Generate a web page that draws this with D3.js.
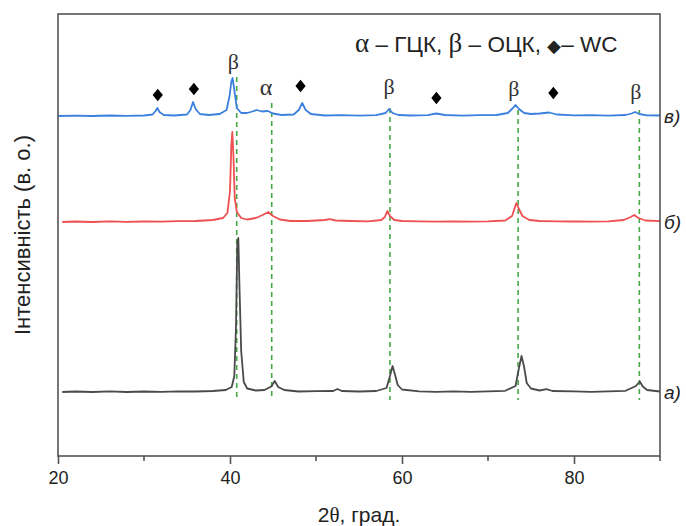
<!DOCTYPE html>
<html>
<head>
<meta charset="utf-8">
<script src="https://cdn.jsdelivr.net/npm/d3@7"></script>
<style>
  body { margin: 0; background: #fff; }
  text { font-family: "Liberation Sans", Arial, sans-serif; }
  .gr { font-family: "Liberation Serif", "DejaVu Serif", serif; }
</style>
</head>
<body>
<script>
// set the dimensions and margins of the graph
var margin = {top: 14, right: 26, bottom: 70, left: 58},
    width = 686 - margin.left - margin.right,
    height = 526 - margin.top - margin.bottom;

// trace а) [2theta, intensity]
var traceA = [
  [20.5,64],[22,64.5],[24,64],[26,64.6],[28,64],[30,64.5],[32,64.2],[34,64.6],[36,64.5],[38,65],
  [39.5,66],[40.2,69],[40.5,80],[40.7,130],[40.85,214],[40.97,218],[41.1,170],[41.3,105],[41.6,74],[42,67.5],
  [43,65.5],[44,66],[44.8,69.5],[45.2,75],[45.6,69],[46.3,66],[48,64.5],[50,64.8],[52,65],[52.5,67],
  [53,65],[55,64.5],[57,65],[58.2,68],[58.6,80],[58.9,90],[59.2,81],[59.5,71],[60,66.5],[62,64.6],
  [64,64.2],[66,64.6],[68,64.2],[70,64.6],[72,65.2],[73.2,70],[73.6,88],[73.9,100],[74.2,89],[74.5,73],
  [75,67.5],[76,65.5],[76.8,66.8],[77.5,65],[80,64.6],[82,64.2],[84,64.6],[86,65.2],[87.2,70],[87.65,74.5],
  [88,69.5],[88.5,66],[90,64.5]
];

// trace б)
var traceB = [
  [20.5,234],[22,234.5],[24,234],[26,234.6],[28,234.2],[30,234.5],[32,234.3],[34,234.8],[36,235],[38,236],
  [39.2,238],[39.7,243],[40.0,265],[40.15,310],[40.27,324],[40.4,300],[40.55,258],[40.8,244],[41.3,238],[42,236.5],
  [43,238],[43.8,241],[44.45,244],[45,240],[45.8,236.5],[47,235],[49,235],[51,236],[51.6,236.8],[52.3,235.5],
  [54,235],[56,234.6],[57.6,236],[58.0,239],[58.3,245],[58.6,240],[59.1,236],[60,235],[62,234.6],[64,234.3],
  [66,234.6],[68,234.3],[70,234.7],[72,235.5],[72.8,240],[73.1,248],[73.3,253],[73.6,247],[74,240],[74.8,236],
  [76,235],[78,234.7],[80,234.5],[82,234.3],[84,234.6],[85.8,236],[86.6,239],[87.0,241],[87.5,238],[88.3,235.5],
  [90,234.8]
];

// trace в)
var traceC = [
  [20,340],[22,340.4],[24,340],[26,340.5],[28,340.1],[30,340.5],[31.0,341.5],[31.35,345],[31.55,348],[31.8,344],
  [32.3,341],[33.5,340.5],[35,341.5],[35.4,346],[35.7,354],[36.0,347],[36.5,342],[37.5,341],[38.8,342],[39.6,346],
  [39.95,360],[40.15,374],[40.3,378],[40.5,366],[40.8,348],[41.3,343],[42,343],[42.6,344.5],[43.1,346],[43.7,344.5],
  [44.4,345],[45,342.5],[46,341],[47.4,341.5],[48.0,346],[48.4,353],[48.8,346],[49.4,342],[51,340.5],[53,340.8],
  [55,340.4],[57,340.8],[58.1,343],[58.5,347],[58.9,343],[59.6,341],[61,340.5],[63,340.8],[64.0,342.5],[65,341],
  [67,340.4],[69,340.8],[71,341],[72.3,343],[72.9,348],[73.2,351],[73.6,347],[74.2,343],[75,342],[76,342.5],
  [77.1,343.5],[78,341.5],[80,340.6],[82,340.8],[84,340.4],[86,341],[86.7,342.5],[87.1,344],[87.6,342],[88.5,340.6],
  [90,340.5]
];

// green dashed reference lines [2theta, top]
var refLines = [[40.78,379],[44.85,353],[58.6,348],[73.5,346],[87.6,346]];
var refBottom = 56;

// peak marks above в)
var betaMarks = [[40.4,394],[58.5,369],[73.0,367],[87.2,364]];
var alphaMarks = [[44.2,367]];
var wcMarks = [[31.6,361],[35.8,367],[48.2,370],[64.0,358],[77.6,363]];

var traceLabels = [["в)",340],["б)",234],["а)",64]];

var xTicks = [20,40,60,80];
var xMinor = [30,50,70,90];

var x = d3.scaleLinear().domain([20, 90]).range([0, width]);
var y = d3.scaleLinear().domain([0, 442]).range([height, 0]);

var svg = d3.select("body").append("svg")
    .attr("width", width + margin.left + margin.right)
    .attr("height", height + margin.top + margin.bottom)
    .append("g")
    .attr("transform", "translate(" + margin.left + "," + margin.top + ")");

// dashed lines first, under the traces
svg.selectAll(".ref")
    .data(refLines)
    .enter()
    .append("line")
    .attr("x1", function (d) { return x(d[0]); })
    .attr("x2", function (d) { return x(d[0]); })
    .attr("y1", function (d) { return y(d[1]); })
    .attr("y2", y(refBottom))
    .attr("stroke", "#45a845")
    .attr("stroke-width", 1.6)
    .attr("stroke-dasharray", "5,4");

var line = d3.line()
    .x(function (d) { return x(d[0]); })
    .y(function (d) { return y(d[1]); });

var traces = [[traceA, "#4a4a4a"], [traceB, "#ee5050"], [traceC, "#3b80de"]];
traces.forEach(function (t) {
    svg.append("path")
        .datum(t[0])
        .attr("fill", "none")
        .attr("stroke", t[1])
        .attr("stroke-width", 1.8)
        .attr("stroke-linejoin", "round")
        .attr("d", line);
});

// frame
svg.append("rect")
    .attr("width", width)
    .attr("height", height)
    .attr("fill", "none")
    .attr("stroke", "#555")
    .attr("stroke-width", 1.6);

// x axis
var xAxis = svg.append("g")
    .attr("transform", "translate(0," + height + ")")
    .call(d3.axisBottom(x).tickValues(xTicks).tickSize(8).tickPadding(7).tickFormat(d3.format("d")));
xAxis.select(".domain").remove();
xAxis.selectAll("line").attr("stroke", "#555").attr("stroke-width", 1.6);
xAxis.selectAll("text").attr("font-size", 18).attr("fill", "#222");

svg.append("g")
    .attr("transform", "translate(0," + height + ")")
    .selectAll("line")
    .data(xMinor)
    .enter()
    .append("line")
    .attr("x1", function (d) { return x(d); })
    .attr("x2", function (d) { return x(d); })
    .attr("y1", 0)
    .attr("y2", 5)
    .attr("stroke", "#555")
    .attr("stroke-width", 1.6);

// axis titles
var xt = svg.append("text")
    .attr("x", width / 2)
    .attr("y", height + 66)
    .attr("text-anchor", "middle")
    .attr("font-size", 21)
    .attr("fill", "#222");
xt.append("tspan").text("2");
xt.append("tspan").attr("class", "gr").text("θ");
xt.append("tspan").text(", град.");

svg.append("text")
    .attr("transform", "translate(-28," + (height / 2) + ") rotate(-90)")
    .attr("text-anchor", "middle")
    .attr("font-size", 22)
    .attr("fill", "#222")
    .text("Інтенсивність (в. о.)");

// trace labels on the right
svg.selectAll(".tl")
    .data(traceLabels)
    .enter()
    .append("text")
    .attr("x", width + 4)
    .attr("y", function (d) { return y(d[1]) + 7; })
    .attr("font-size", 19)
    .attr("font-style", "italic")
    .attr("fill", "#222")
    .text(function (d) { return d[0]; });

// phase marks
svg.selectAll(".beta")
    .data(betaMarks)
    .enter()
    .append("text")
    .attr("class", "gr")
    .attr("x", function (d) { return x(d[0]); })
    .attr("y", function (d) { return y(d[1]) + 7; })
    .attr("text-anchor", "middle")
    .attr("font-size", 22)
    .attr("fill", "#333")
    .text("β");

svg.selectAll(".alpha")
    .data(alphaMarks)
    .enter()
    .append("text")
    .attr("class", "gr")
    .attr("x", function (d) { return x(d[0]); })
    .attr("y", function (d) { return y(d[1]) + 6; })
    .attr("text-anchor", "middle")
    .attr("font-size", 24)
    .attr("fill", "#333")
    .text("α");

// WC diamonds: a square turned 45deg, stretched a bit upright
svg.selectAll(".wc")
    .data(wcMarks)
    .enter()
    .append("path")
    .attr("transform", function (d) {
        return "translate(" + x(d[0]) + "," + y(d[1]) + ") scale(1,1.25) rotate(45)";
    })
    .attr("d", d3.symbol().type(d3.symbolSquare).size(52))
    .attr("fill", "#000");

// legend
var lg = svg.append("text")
    .attr("x", 297)
    .attr("y", 38)
    .attr("font-size", 22.5)
    .attr("fill", "#222");
lg.append("tspan").attr("class", "gr").attr("font-size", 27).text("α");
lg.append("tspan").text(" – ГЦК, ");
lg.append("tspan").attr("class", "gr").attr("font-size", 27).text("β");
lg.append("tspan").text(" – ОЦК, ");
lg.append("tspan").attr("font-size", 18).text("◆");
lg.append("tspan").text("– WC");
</script>
</body>
</html>
